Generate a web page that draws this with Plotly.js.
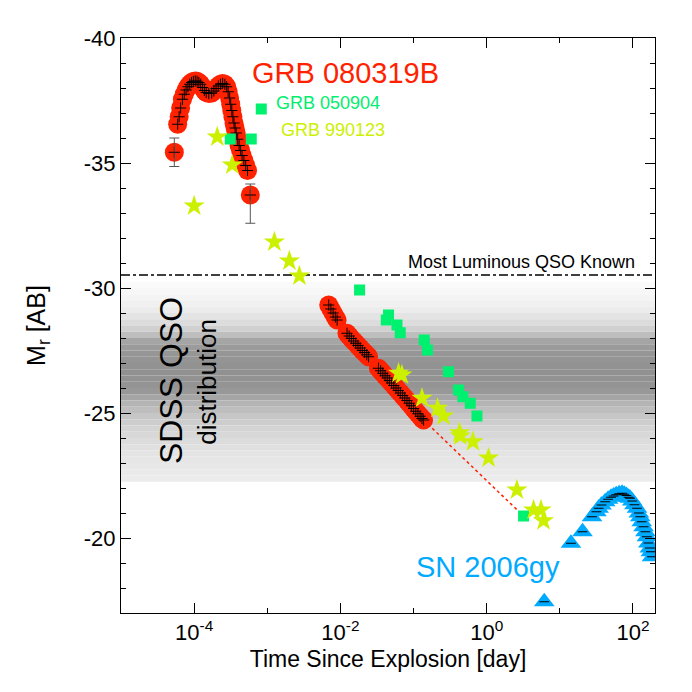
<!DOCTYPE html>
<html>
<head>
<meta charset="utf-8">
<script src="https://cdn.plot.ly/plotly-3.0.1.min.js"></script>
<style>
  html, body { margin: 0; padding: 0; background: #fff; }
  #plot { width: 692px; height: 692px; }
</style>
</head>
<body>
<div id="plot"></div>
<script>
// GRB 080319B (log10 of days, absolute mag)
const redLogT = [-4.271, -4.225, -4.205, -4.185, -4.16, -4.135, -4.11, -4.085, -4.06, -4.035,
  -4.01, -3.985, -3.96, -3.935, -3.91, -3.885, -3.86, -3.835, -3.80, -3.76,
  -3.73, -3.70, -3.67, -3.64, -3.61, -3.58, -3.555, -3.535, -3.515, -3.50,
  -3.485, -3.47, -3.455, -3.44, -3.425, -3.405, -3.385, -3.365, -3.345, -3.32,
  -3.295, -3.27, -3.232,
  -2.16, -2.13, -2.10, -2.07, -2.045,
  -1.91, -1.88, -1.85, -1.82, -1.79, -1.76, -1.73, -1.70, -1.67, -1.64, -1.615,
  -1.48, -1.45, -1.42, -1.39, -1.36, -1.33, -1.30, -1.27, -1.24, -1.21, -1.18,
  -1.15, -1.12, -1.09, -1.06, -1.03, -1.00, -0.97, -0.94, -0.91, -0.885, -0.863];
const redMag = [-35.43, -36.55, -36.85, -37.2, -37.55, -37.75, -37.92, -38.05, -38.15, -38.22,
  -38.26, -38.28, -38.27, -38.22, -38.15, -38.02, -37.9, -37.82, -37.78, -37.8,
  -37.88, -37.98, -38.08, -38.15, -38.18, -38.15, -38.05, -37.85, -37.6, -37.35,
  -37.1, -36.85, -36.6, -36.4, -36.2, -35.95, -35.7, -35.5, -35.3, -35.1,
  -34.9, -34.7, -33.72,
  -29.32, -29.16, -29.0, -28.84, -28.72,
  -28.19, -28.08, -27.98, -27.88, -27.79, -27.70, -27.6, -27.5, -27.42, -27.33, -27.25,
  -26.79, -26.69, -26.59, -26.49, -26.40, -26.3, -26.2, -26.1, -26.0, -25.9, -25.8,
  -25.7, -25.6, -25.5, -25.39, -25.29, -25.18, -25.07, -24.97, -24.87, -24.78, -24.72];
// points with large error bars
const redErrLogT = [-4.271, -3.232];
const redErrMag = [-35.43, -33.72];
const redErrFaint = [0.57, 1.13];
const redErrBright = [0.57, 0.44];
// extrapolated decay (dotted)
const decayLogT = [-0.863, 0.46];
const decayMag = [-24.72, -21.0];

// GRB 050904
const greenLogT = [-3.082, -3.506, -3.219, -1.738, -1.342, -1.373, -1.227, -1.182, -0.854, -0.809,
  -0.522, -0.385, -0.325, -0.225, -0.133, 0.504];
const greenMag = [-37.16, -35.96, -35.96, -29.92, -28.92, -28.72, -28.52, -28.21, -27.92, -27.52,
  -26.65, -25.92, -25.65, -25.39, -24.88, -20.88];

// GRB 990123
const yellowLogT = [-4.0, -3.684, -3.479, -2.903, -2.698, -2.561, -1.205, -1.159, -0.885, -0.672,
  -0.59, -0.371, -0.362, -0.188, 0.025, 0.413, 0.641, 0.742, 0.777];
const yellowMag = [-33.28, -36.04, -34.92, -31.84, -31.08, -30.48, -26.59, -26.52, -25.59, -25.19,
  -24.88, -24.21, -24.08, -23.85, -23.2, -21.92, -21.12, -21.12, -20.69];

// SN 2006gy
const blueLogT = [0.787, 1.152, 1.31, 1.44, 1.50, 1.53, 1.57, 1.62, 1.66, 1.70,
  1.735, 1.77, 1.81, 1.85, 1.88, 1.91, 1.94, 1.96, 1.99, 2.02,
  2.055, 2.08, 2.10, 2.12, 2.145, 2.17, 2.19, 2.21, 2.23, 2.245, 2.26];
const blueMag = [-17.45, -19.79, -20.25, -20.85, -21.05, -21.19, -21.32, -21.45, -21.55, -21.63,
  -21.68, -21.73, -21.77, -21.79, -21.75, -21.7, -21.63, -21.59, -21.48, -21.33,
  -21.19, -21.0, -20.85, -20.65, -20.45, -20.25, -20.05, -19.8, -19.6, -19.45, -19.25];

// most luminous QSO known
const qsoMaxMag = -30.52;
const xSpan = [1e-5, 200];

// SDSS QSO distribution: band lower edges (0.25 mag wide) and grey level
const qsoBandEdges = [-30.25, -30.0, -29.75, -29.5, -29.25, -29.0, -28.75, -28.5, -28.25, -28.0,
  -27.75, -27.5, -27.25, -27.0, -26.75, -26.5, -26.25, -26.0, -25.75, -25.5,
  -25.25, -25.0, -24.75, -24.5, -24.25, -24.0, -23.75, -23.5, -23.25, -23.0,
  -22.75, -22.5];
const qsoGrey = [250, 247, 244, 240, 236, 228, 220, 208, 190, 165,
  155, 150, 148, 146, 145, 146, 148, 152, 165, 180,
  190, 198, 205, 212, 216, 220, 224, 228, 230, 232,
  234, 236];

const yTicks = [-40, -35, -30, -25, -20];
const yTickText = ['-40', '-35', '-30', '-25', '-20'];
const xTicks = [1e-4, 1e-2, 1, 100];
const xTickText = ['10<sup>-4</sup>', '10<sup>-2</sup>', '10<sup>0</sup>', '10<sup>2</sup>'];
const xMinor = [1e-3, 1e-1, 10];

const toT = a => a.map(v => Math.pow(10, v));
const FONT = 'Liberation Sans, Arial, Helvetica, sans-serif';

const traces = [
  {x: xSpan, y: [qsoMaxMag, qsoMaxMag], mode: 'lines', line: {color: 'black', width: 1.3, dash: 'dashdot'}},
  {x: toT(decayLogT), y: decayMag, mode: 'lines', line: {color: '#ff2200', width: 1.5, dash: 'dot'}},
  {x: toT(redLogT), y: redMag, mode: 'markers', marker: {symbol: 'circle', size: 19, color: '#ff2200'}},
  {x: toT(redLogT), y: redMag, mode: 'markers',
   marker: {symbol: 'cross-thin', size: 8, color: 'black', line: {color: 'black', width: 1}}},
  {x: toT(redErrLogT), y: redErrMag, mode: 'markers', marker: {size: 1, color: 'black'},
   error_y: {type: 'data', symmetric: false, array: redErrFaint, arrayminus: redErrBright,
             color: '#555', thickness: 1, width: 5}},
  {x: toT(greenLogT), y: greenMag, mode: 'markers', marker: {symbol: 'square', size: 11, color: '#00f070'}},
  {x: toT(yellowLogT), y: yellowMag, mode: 'markers', marker: {symbol: 'star', size: 16, color: '#ccf000'}},
  {x: toT(blueLogT), y: blueMag, mode: 'markers', marker: {symbol: 'triangle-up', size: 18, color: '#00aaff'}},
  {x: toT(blueLogT), y: blueMag, mode: 'markers',
   marker: {symbol: 'line-ew', size: 7, color: 'black', line: {color: 'black', width: 1}}}
];

const bandShapes = qsoBandEdges.map((y0, i) => ({
  type: 'rect', xref: 'paper', x0: 0, x1: 1, yref: 'y', y0: y0, y1: y0 + 0.25,
  fillcolor: `rgb(${qsoGrey[i]},${qsoGrey[i]},${qsoGrey[i]})`, line: {width: 0}, layer: 'below'
}));

const ann = (text, x, y, size, color, angle) => ({
  text: text, xref: 'paper', yref: 'paper', x: x, y: y, showarrow: false,
  xanchor: 'center', yanchor: 'middle', textangle: angle || 0,
  font: {family: FONT, size: size, color: color}
});

const layout = {
  width: 692, height: 692,
  margin: {l: 121, r: 37, t: 38, b: 79},
  paper_bgcolor: 'white', plot_bgcolor: 'white',
  showlegend: false,
  font: {family: FONT, color: 'black'},
  xaxis: {
    type: 'log', range: [-5, Math.log10(200)],
    tickmode: 'array', tickvals: xTicks, ticktext: xTickText,
    ticks: 'inside', ticklen: 10, tickwidth: 1, tickcolor: 'black',
    minor: {tickvals: xMinor, ticks: 'inside', ticklen: 5, tickcolor: 'black', showgrid: false},
    showline: true, linecolor: 'black', linewidth: 1, mirror: 'allticks',
    showgrid: false, zeroline: false,
    tickfont: {size: 22},
    title: {text: 'Time Since Explosion [day]', font: {size: 23}, standoff: 6}
  },
  yaxis: {
    range: [-17, -40],
    tickmode: 'array', tickvals: yTicks, ticktext: yTickText,
    ticks: 'inside', ticklen: 10, tickwidth: 1, tickcolor: 'black',
    minor: {tickmode: 'linear', tick0: 0, dtick: 1, ticks: 'inside', ticklen: 5, tickcolor: 'black', showgrid: false},
    showline: true, linecolor: 'black', linewidth: 1, mirror: 'allticks',
    showgrid: false, zeroline: false,
    tickfont: {size: 22},
    title: {text: 'M<sub>r</sub> [AB]', font: {size: 25}, standoff: 31}
  },
  shapes: bandShapes,
  annotations: [
    ann('GRB 080319B', 0.4213, 0.939, 29, '#ff2200'),
    ann('GRB 050904', 0.3876, 0.887, 18, '#00ee6e'),
    ann('GRB 990123', 0.397, 0.840, 18, '#ccf000'),
    ann('Most Luminous QSO Known', 0.75, 0.6104, 18, 'black'),
    ann('SN 2006gy', 0.687, 0.08, 29, '#00aaff'),
    ann('SDSS QSO', 0.0936, 0.405, 32, 'black', -90),
    ann('distribution', 0.161, 0.402, 26, 'black', -90)
  ]
};

Plotly.newPlot('plot', traces, layout, {displayModeBar: false, staticPlot: true});
</script>
</body>
</html>
